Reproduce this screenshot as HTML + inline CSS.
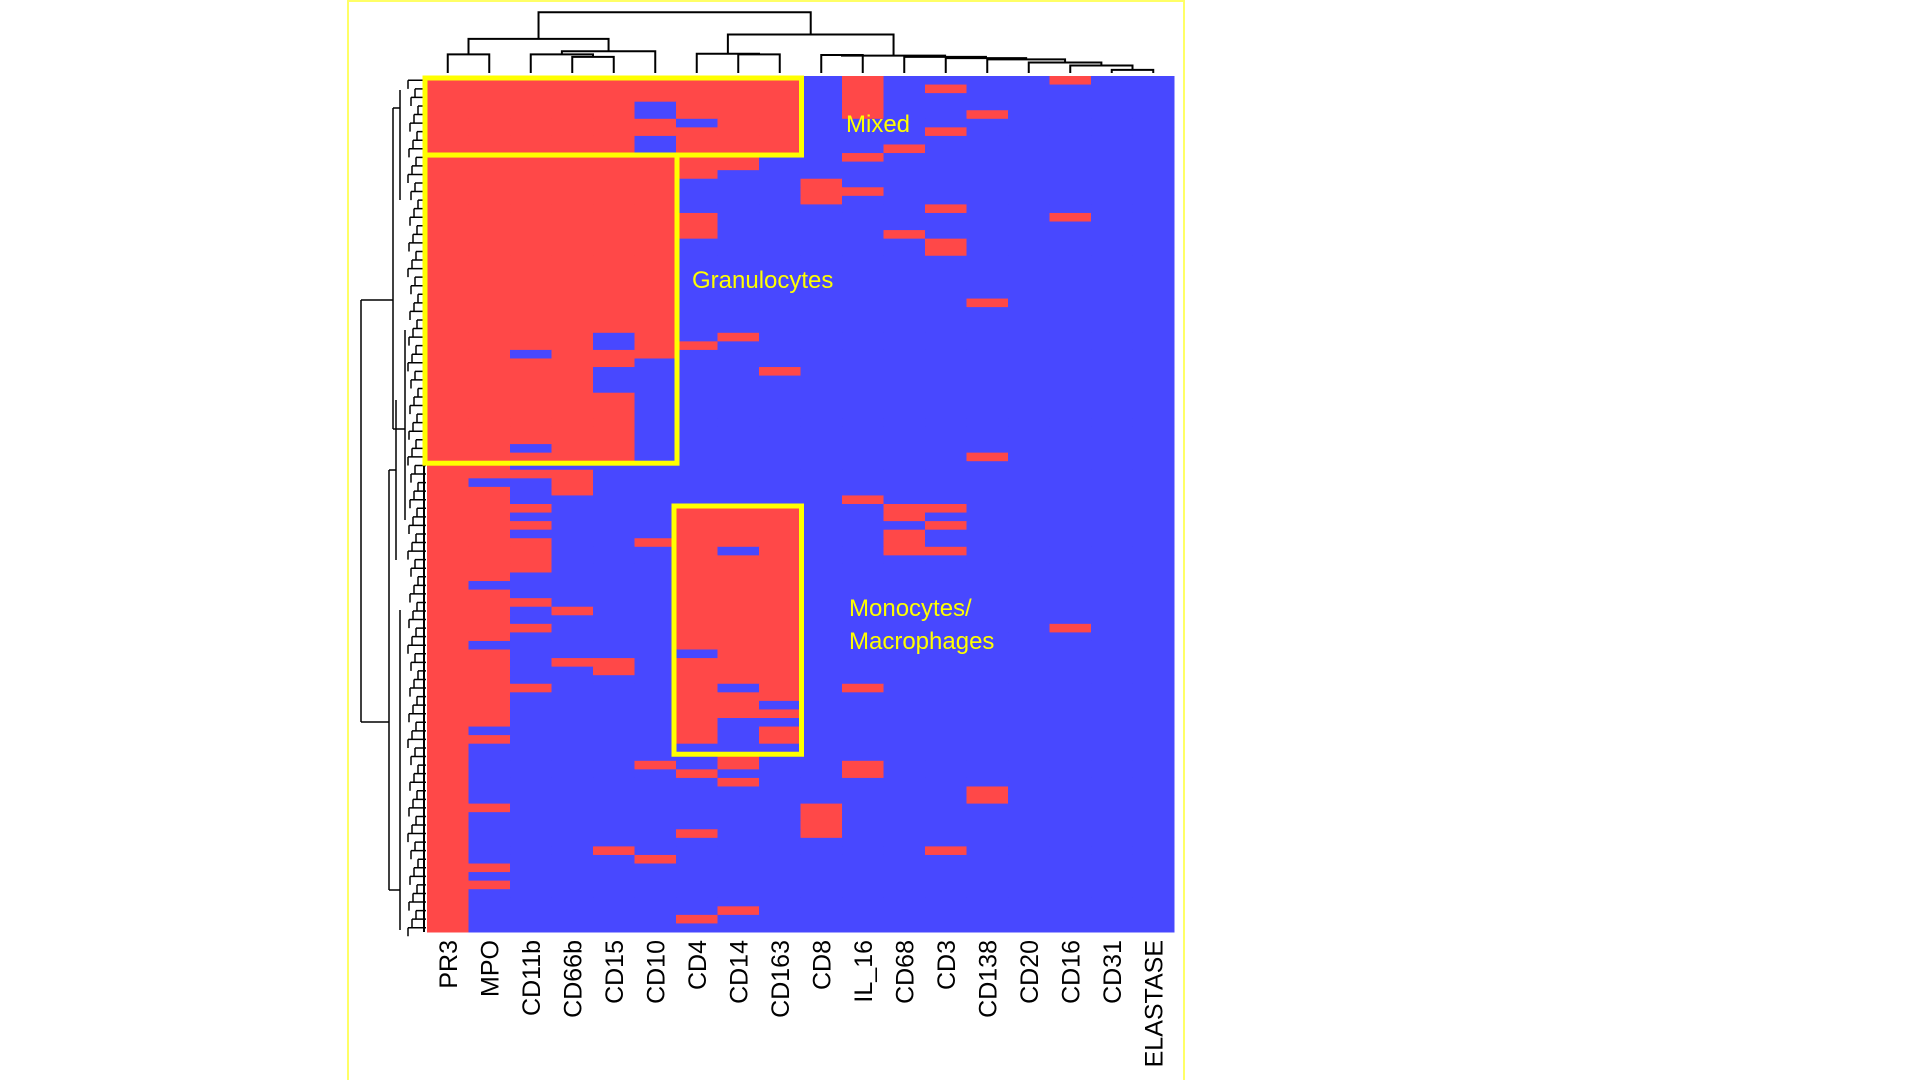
<!DOCTYPE html>
<html><head><meta charset="utf-8"><style>
body{margin:0;background:#fff;width:1920px;height:1080px;overflow:hidden;font-family:"Liberation Sans",sans-serif}
svg{position:absolute;left:0;top:0}
</style></head><body>
<svg id="chart" width="1920" height="1080">
<rect x="348" y="1" width="836" height="1090" fill="none" stroke="#ffff66" stroke-width="2"/>
<g id="cells"></g>
<g id="topdendro" stroke="#000" stroke-width="2" fill="none"></g>
<g id="leftdendro" stroke="#000" stroke-width="1.5" fill="none"></g>
<g id="boxes" fill="none" stroke="#ffff00" stroke-width="5"></g>
<g id="labels"></g>
<text x="846" y="132" font-size="24" fill="#ffff00">Mixed</text>
<text x="692" y="288" font-size="24" fill="#ffff00">Granulocytes</text>
<text x="849" y="616" font-size="24" fill="#ffff00">Monocytes/</text>
<text x="849" y="649" font-size="24" fill="#ffff00">Macrophages</text>
</svg>
<script>
const markers=["PR3","MPO","CD11b","CD66b","CD15","CD10","CD4","CD14","CD163","CD8","IL_16","CD68","CD3","CD138","CD20","CD16","CD31","ELASTASE"];
const rows=[
"111111111010000100","111111111010100000","111111111010000000","111110111010000000","111110111010010000",
"111111011000000000","111111111000100000","111110111000000000","111110111001000000",
"111111110010000000","111111110000000000","111111100000000000","111111000100000000","111111000110000000",
"111111000100000000","111111000000100000","111111100000000100","111111100000000000","111111100001000000",
"111111000000100000","111111000000100000","111111000000000000","111111000000000000","111111000000000000",
"111111000000000000","111111000000000000","111111000000010000","111111000000000000","111111000000000000",
"111111000000000000","111101010000000000","111101100000000000","110111000000000000","111110000000000000",
"111100001000000000","111100000000000000","111100000000000000","111110000000000000","111110000000000000",
"111110000000000000","111110000000000000","111110000000000000","111110000000000000","110110000000000000",
"111110000000010000",
"110000000000000000","111100000000000000","100100000000000000","110100000000000000","110000000010000000",
"111000111001100000","110000111001000000","111000111000100000","110000111001000000","111001111001000000",
"111000101001100000","111000111000000000","111000111000000000","110000111000000000","100000111000000000",
"110000111000000000","111000111000000000","110100111000000000","110000111000000000","111000111000000100",
"110000111000000000","100000111000000000","110000011000000000","110110111000000000","110010111000000000",
"110000111000000000","111000101010000000","110000111000000000","110000110000000000","110000111000000000",
"110000100000000000","100000101000000000","110000101000000000","100000000000000000",
"100000010000000000","100001010010000000","100000100010000000","100000010000000000","100000000000010000",
"100000000000010000","110000000100000000","100000000100000000","100000000100000000","100000100100000000",
"100000000000000000","100010000000100000","100001000000000000","110000000000000000","100000000000000000",
"110000000000000000","100000000000000000","100000000000000000","100000010000000000","100000100000000000",
"100000000000000000"];
// column dendrogram merges: [leftNode,rightNode,height]; leaves 0..17, new nodes 18+
const merges=[[0,1,0.30],[3,4,0.26],[2,19,0.30],[20,5,0.35],[18,21,0.55],
[7,8,0.30],[6,23,0.31],[9,10,0.29],[16,17,0.05],[15,26,0.12],[14,27,0.17],[13,28,0.22],[12,29,0.24],[11,30,0.26],[25,31,0.28],
[24,32,0.62],[22,33,0.98]];
const NS="http://www.w3.org/2000/svg";
const X0=427,X1=1174,Y0=76,Y1=932;
const cw=(X1-X0)/markers.length, rh=(Y1-Y0)/rows.length;
const xCol=i=>X0+i*cw, yRow=r=>Y0+r*rh;
function mk(t,a,p){const e=document.createElementNS(NS,t);for(const k in a)e.setAttribute(k,a[k]);p.appendChild(e);return e;}
const cells=document.getElementById('cells');
rows.forEach((s,r)=>{for(let c=0;c<markers.length;c++){
 const e=mk('rect',{x:xCol(c),y:yRow(r),width:cw+0.5,height:rh+0.5,fill:s[c]==='1'?'#ff4848':'#4848ff'},cells);
 
 
}});
const lab=document.getElementById('labels');
markers.forEach((m,i)=>{
 const cx=xCol(i)+cw/2+9, y=940;
 const t=mk('text',{x:cx,y:y,'font-size':25,fill:'#000','text-anchor':'end',transform:`rotate(-90 ${cx} ${y})`},lab);
 t.textContent=m;
 
 
});
const td=document.getElementById('topdendro');
const hY=h=>73-h*62;
const nodes=markers.map((m,i)=>({x:xCol(i)+cw/2,y:73}));
merges.forEach(([a,b,h])=>{
 const A=nodes[a],B=nodes[b],y=hY(h);
 const p=mk('path',{d:`M${A.x},${A.y}V${y}H${B.x}V${B.y}`},td);
 
 
 nodes.push({x:(A.x+B.x)/2,y:y});
});
const ld=document.getElementById('leftdendro');
const segs=["M361,300V722","M361,300H393","M361,722H389","M393,108V429","M389,470V890",
"M393,108H400","M393,429H405","M389,470H396","M389,890H400",
"M400,90V200","M405,330V520","M396,400V560","M400,610V930"];
segs.forEach(d=>{const p=mk('path',{d:d},ld);
 
 });
let d="";
for(let r=0;r<rows.length;r++){const y=yRow(r)+rh/2;const x=408+((r*7)%11);d+=`M${x},${y}H426 M${x},${y}V${y+rh}`;}
const dp=mk('path',{d:d},ld);


mk('path',{d:`M424,${Y0}V${Y1}`,'stroke-width':2},ld);
const bx=document.getElementById('boxes');
[[0,9,0,9,'mixed-box'],[0,6,9,45,'granulocytes-box'],[6,9,50,79,'monocytes-box']].forEach(([c0,c1,r0,r1,n])=>{
 const e=mk('rect',{x:xCol(c0)-2,y:yRow(r0)+2,width:xCol(c1)-xCol(c0)+3,height:yRow(r1)-yRow(r0)},bx);
 
 
});
</script>
</body></html>
